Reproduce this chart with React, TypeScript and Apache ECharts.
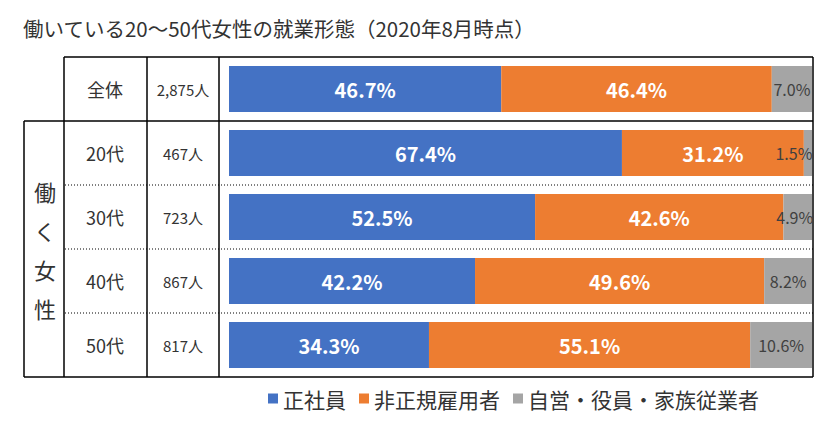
import * as echarts from "echarts"
import { useEffect, useRef } from "react"

const titleText = "働いている20〜50代女性の就業形態（2020年8月時点）"
const groupLabel = "働く女性"
const ages = ["全体", "20代", "30代", "40代", "50代"]
const counts = ["2,875人", "467人", "723人", "867人", "817人"]
const seriesNames = ["正社員", "非正規雇用者", "自営・役員・家族従業者"]
const regular = [46.7, 67.4, 52.5, 42.2, 34.3]
const nonRegular = [46.4, 31.2, 42.6, 49.6, 55.1]
const selfEmployed = [7.0, 1.5, 4.9, 8.2, 10.6]

const colors = ["#4472C4", "#ED7D31", "#A5A5A5"]
const font = "'Noto Sans CJK JP', 'Noto Sans', sans-serif"
const textColor = "#333"

// table layout (px)
const gridLeft = 229
const gridRight = 812
const top = 57
const rowH = 64
const colX = [24, 64, 147, 219, 813]

export default function App() {
  const ref = useRef<HTMLDivElement>(null)

  useEffect(() => {
    if (!ref.current) return
    const chart = echarts.init(ref.current, null, { renderer: "svg" })

    const bottom = top + rowH * ages.length
    const solid = { stroke: "#000", lineWidth: 1.5 }
    const dotted = { stroke: "#000", lineWidth: 1, lineDash: [1, 2] }
    const lines: any[] = [
      { type: "line", shape: { x1: colX[1], y1: top, x2: colX[4], y2: top }, style: solid },
      { type: "line", shape: { x1: colX[0], y1: top + rowH, x2: colX[4], y2: top + rowH }, style: solid },
      { type: "line", shape: { x1: colX[0], y1: bottom, x2: colX[4], y2: bottom }, style: solid },
      { type: "line", shape: { x1: colX[0], y1: top + rowH, x2: colX[0], y2: bottom }, style: solid },
    ]
    for (let i = 1; i < colX.length; i++) {
      lines.push({ type: "line", shape: { x1: colX[i], y1: top, x2: colX[i], y2: bottom }, style: solid })
    }
    for (let r = 2; r < ages.length; r++) {
      const y = top + rowH * r
      lines.push({ type: "line", shape: { x1: colX[1] + 1, y1: y, x2: colX[4], y2: y }, style: dotted })
    }

    const whiteLabel = {
      show: true,
      position: "inside",
      color: "#fff",
      fontSize: 20,
      fontWeight: "bold",
      fontFamily: font,
      formatter: (p: any) => p.value.toFixed(1) + "%",
    }

    chart.setOption({
      animation: false,
      title: {
        text: titleText,
        left: 18,
        top: 13,
        textStyle: { fontSize: 20.5, fontWeight: "normal", color: textColor, fontFamily: font },
      },
      legend: {
        data: seriesNames,
        left: 263,
        top: 383,
        icon: "rect",
        itemWidth: 10,
        itemHeight: 10,
        itemGap: 13,
        textStyle: { fontSize: 21, color: textColor, fontFamily: font },
      },
      grid: { left: gridLeft, right: 830 - gridRight, top, bottom: 421 - bottom },
      xAxis: { type: "value", min: 0, max: 100, show: false },
      yAxis: [
        {
          type: "category",
          data: ages,
          inverse: true,
          axisLine: { show: false },
          axisTick: { show: false },
          axisLabel: {
            align: "center",
            margin: gridLeft - 105,
            fontSize: 18,
            color: textColor,
            fontFamily: font,
          },
        },
        {
          type: "category",
          data: counts,
          inverse: true,
          position: "left",
          axisLine: { show: false },
          axisTick: { show: false },
          axisLabel: {
            align: "center",
            margin: gridLeft - 183,
            fontSize: 15,
            color: textColor,
            fontFamily: font,
          },
        },
      ],
      series: [
        {
          name: seriesNames[0],
          type: "bar",
          stack: "total",
          barWidth: 46,
          data: regular,
          itemStyle: { color: colors[0] },
          label: whiteLabel,
        },
        {
          name: seriesNames[1],
          type: "bar",
          stack: "total",
          data: nonRegular,
          itemStyle: { color: colors[1] },
          label: whiteLabel,
        },
        {
          name: seriesNames[2],
          type: "bar",
          stack: "total",
          data: selfEmployed.map(v => ({
            value: v,
            label: v < 3 ? { offset: [-14, 0] } : v < 6 ? { offset: [-3, 0] } : {},
          })),
          itemStyle: { color: colors[2] },
          label: {
            show: true,
            position: "inside",
            color: "#404040",
            fontSize: 16,
            fontFamily: font,
            formatter: (p: any) => p.value.toFixed(1) + "%",
          },
        },
      ],
      graphic: [
        ...lines,
        {
          type: "text",
          x: 45,
          y: 249,
          style: {
            text: groupLabel.split("").join("\n"),
            fontSize: 22,
            lineHeight: 39,
            fontFamily: font,
            fill: textColor,
            textAlign: "center",
            textVerticalAlign: "middle",
          },
        },
      ],
    })

    return () => chart.dispose()
  }, [])

  return <div ref={ref} style={{ width: 830, height: 421, margin: -8, background: "#fff" }} />
}
